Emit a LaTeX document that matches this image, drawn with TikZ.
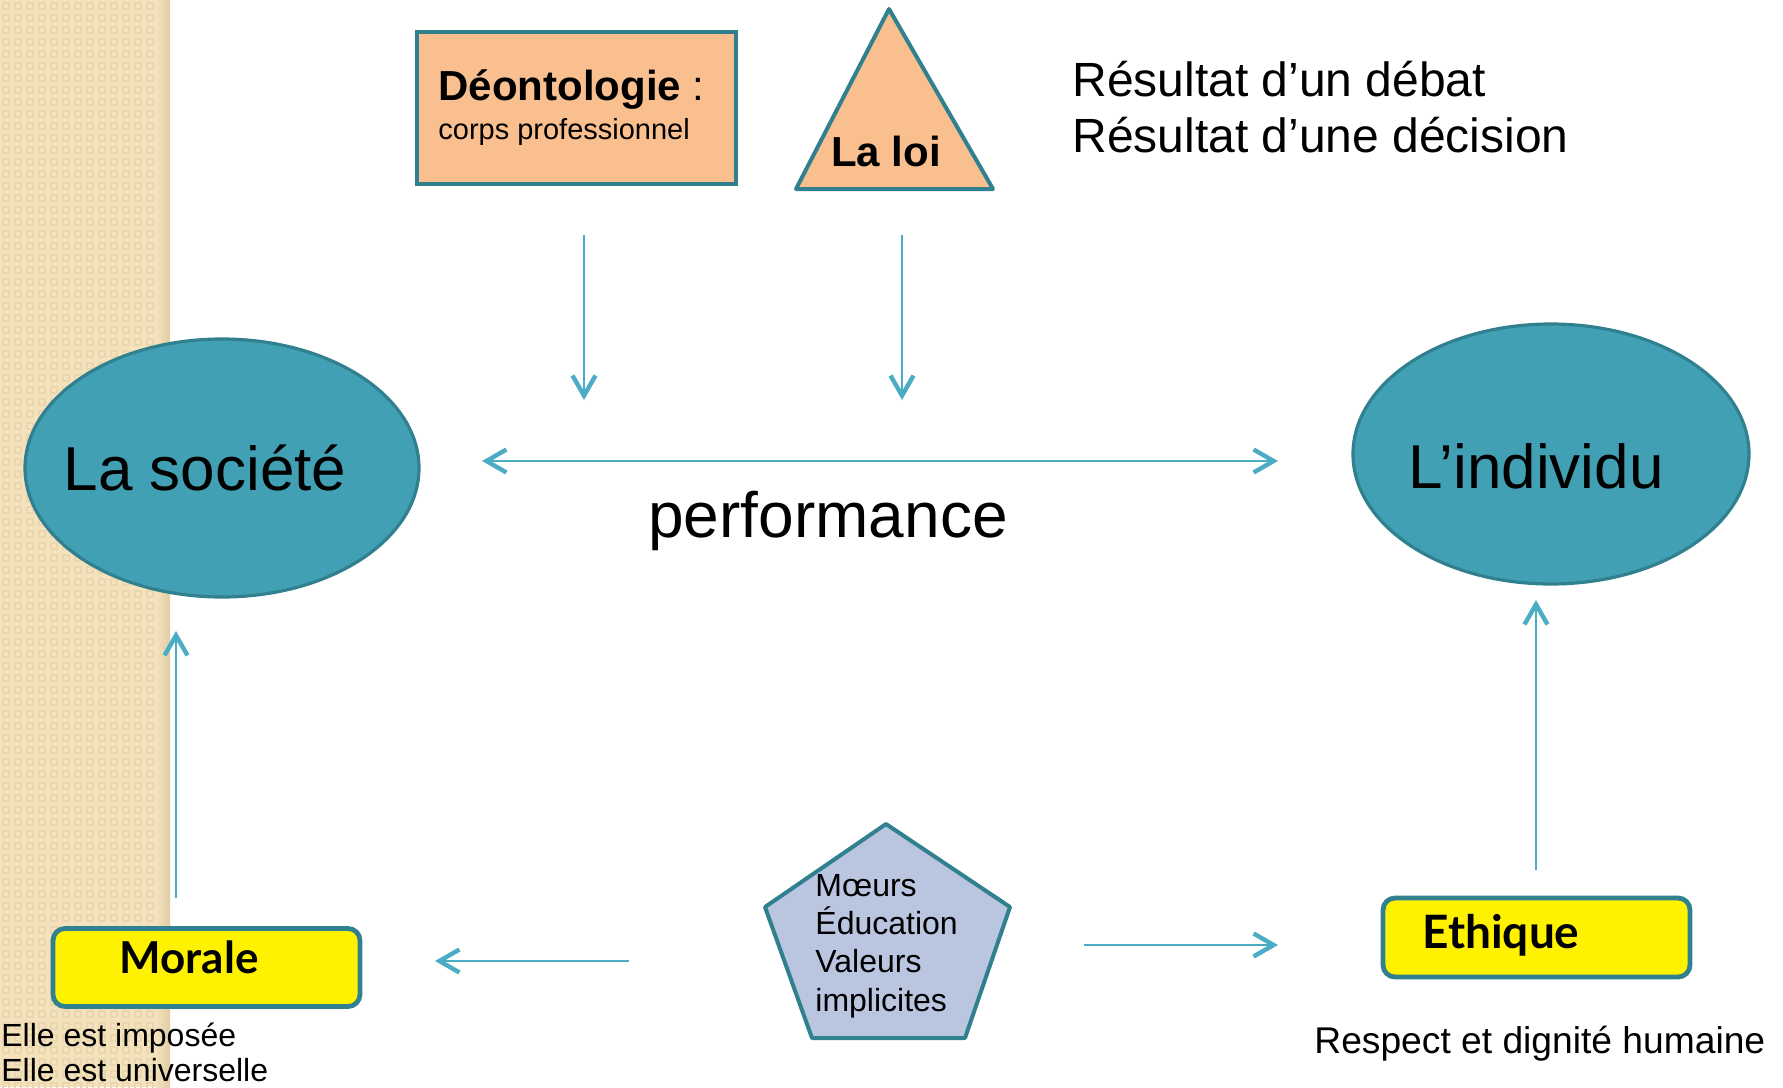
\documentclass[tikz,border=0pt]{standalone}
\usepackage{fontspec}
\setmainfont{Liberation Sans}
\newfontfamily\berlin{Lato}
\usetikzlibrary{shapes.geometric,arrows.meta}
\definecolor{bordc}{HTML}{31808F}
\definecolor{orangef}{HTML}{FABF8F}
\definecolor{ellf}{HTML}{42A0B5}
\definecolor{arrc}{HTML}{4BACC6}
\definecolor{pentf}{HTML}{BAC5E0}
\definecolor{stripbase}{HTML}{F4E2BD}
\definecolor{stripdark}{HTML}{EBD7AF}
\definecolor{stripedge}{HTML}{E0CCA4}
\tikzset{
  arr/.style={draw=arrc, line width=1.2pt, -{Straight Barb[length=10pt,width=11.5pt,line width=2.2pt]}},
  darr/.style={draw=arrc, line width=1.2pt, {Straight Barb[length=10pt,width=11.5pt,line width=2.2pt]}-{Straight Barb[length=10pt,width=11.5pt,line width=2.2pt]}},
  ell/.style={ellipse, draw=bordc, fill=ellf, line width=1.6pt, inner sep=0pt},
  yellowbox/.style={rectangle, rounded corners=6pt, draw=bordc, fill=yellow, line width=2.4pt, inner sep=0pt},
  txt/.style={inner sep=0pt, text=black},
}
\begin{document}
\begin{tikzpicture}[x=0.5pt,y=-0.5pt]
\useasboundingbox (0,0) rectangle (1783,1087);
\fill[white] (0,0) rectangle (1783,1087);
% left decorative strip
\fill[stripbase] (0,0) rectangle (170,1087);
\foreach \i in {0,...,13}{
  \foreach \j in {0,...,90}{
    \draw[stripdark, line width=0.8pt] (\i*12+3,\j*12+3) rectangle ++(6,6);
  }
}
\shade[left color=stripbase, right color=stripedge] (156,0) rectangle (170,1087);

% Deontologie box
\node[rectangle, draw=bordc, fill=orangef, line width=2pt, minimum width=159.5pt, minimum height=76pt, inner sep=0pt] (deonto) at (576.5,108) {};
\node[txt, anchor=base west, font=\fontsize{21}{25}\selectfont] (deontot) at (438,100) {\bfseries Déontologie\mdseries\ :};
\node[txt, anchor=base west, font=\fontsize{14.5}{17}\selectfont] (deontos) at (438,139) {corps professionnel};

% La loi triangle
\draw[draw=bordc, fill=orangef, line width=2pt, line join=round] (889,9) -- (993,189) -- (796,189) -- cycle;
\node[txt, anchor=base, font=\fontsize{21}{25}\selectfont\bfseries] (loi) at (886,166) {La loi};

% top right text
\node[txt, anchor=base west, font=\fontsize{24}{28}\selectfont] (res1) at (1072,96) {Résultat d’un débat};
\node[txt, anchor=base west, font=\fontsize{24}{28}\selectfont] (res2) at (1072,152) {Résultat d’une décision};

% ellipses
\node[ell, minimum width=197pt, minimum height=129pt] (societe) at (222,468) {};
\node[txt, anchor=base, font=\fontsize{31}{36}\selectfont] (societet) at (205,490) {La société};
\node[ell, minimum width=198pt, minimum height=130pt] (individu) at (1551,454) {};
\node[txt, anchor=base, font=\fontsize{31}{36}\selectfont] (individut) at (1536,488) {L’individu};

% performance
\node[txt, anchor=base, font=\fontsize{32}{38}\selectfont] (perf) at (828,537) {performance};

% pentagon
\draw[draw=bordc, fill=pentf, line width=2pt, line join=round] (886,824) -- (1010,907) -- (965,1038) -- (812,1038) -- (765,907) -- cycle;
\node[txt, anchor=base west, font=\fontsize{16}{19}\selectfont] (m1) at (815,896) {Mœurs};
\node[txt, anchor=base west, font=\fontsize{16}{19}\selectfont] (m2) at (815,934) {Éducation};
\node[txt, anchor=base west, font=\fontsize{16}{19}\selectfont] (m3) at (815,972) {Valeurs};
\node[txt, anchor=base west, font=\fontsize{16}{19}\selectfont] (m4) at (815,1011) {implicites};

% Morale & Ethique
\node[yellowbox, minimum width=153.5pt, minimum height=39pt] (morale) at (206.5,967.5) {};
\node[txt, anchor=base, font=\fontsize{22}{26}\selectfont\berlin\bfseries] (moralet) at (189,973) {Morale};
\node[yellowbox, minimum width=153.5pt, minimum height=39.5pt] (ethique) at (1536.5,937.5) {};
\node[txt, anchor=base, font=\fontsize{23}{27}\selectfont\berlin\bfseries] (ethiquet) at (1501,948) {Ethique};

\node[txt, anchor=base west, font=\fontsize{16}{19}\selectfont] (elle1) at (1,1046) {Elle est imposée};
\node[txt, anchor=base west, font=\fontsize{16}{19}\selectfont] (elle2) at (1,1081) {Elle est universelle};
\node[txt, anchor=base west, font=\fontsize{18.6}{22}\selectfont] (respect) at (1314,1053) {Respect et dignité humaine};

% arrow end points
\coordinate (a1s) at (584,235); \coordinate (a1e) at (584,400);
\coordinate (a2s) at (902,235); \coordinate (a2e) at (902,400);
\coordinate (hl) at (482,461); \coordinate (hr) at (1278,461);
\coordinate (uls) at (176,898); \coordinate (ule) at (176,631);
\coordinate (urs) at (1536,870); \coordinate (ure) at (1536,600);
\coordinate (bls) at (629,961); \coordinate (ble) at (435,961);
\coordinate (brs) at (1084,945); \coordinate (bre) at (1278,945);

\draw[arr] (a1s) -- (a1e);
\draw[arr] (a2s) -- (a2e);
\draw[darr] (hl) -- (hr);
\draw[arr] (uls) -- (ule);
\draw[arr] (urs) -- (ure);
\draw[arr] (bls) -- (ble);
\draw[arr] (brs) -- (bre);
\end{tikzpicture}
\end{document}
